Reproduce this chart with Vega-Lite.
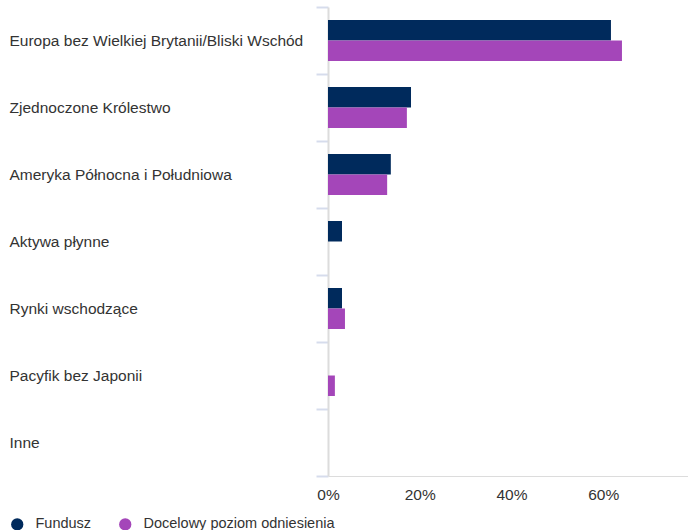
{
  "$schema": "https://vega.github.io/schema/vega-lite/v6.json",
  "width": 360,
  "height": 469,
  "padding": {"left": 9, "top": 0, "right": 0, "bottom": 0},
  "background": "white",
  "config": {"view": {"stroke": null}, "font": "Liberation Sans"},
  "data": {"values": [
    {"region": "Europa bez Wielkiej Brytanii/Bliski Wschód", "series": "Fundusz", "value": 0.617},
    {"region": "Europa bez Wielkiej Brytanii/Bliski Wschód", "series": "Docelowy poziom odniesienia", "value": 0.641},
    {"region": "Zjednoczone Królestwo", "series": "Fundusz", "value": 0.181},
    {"region": "Zjednoczone Królestwo", "series": "Docelowy poziom odniesienia", "value": 0.172},
    {"region": "Ameryka Północna i Południowa", "series": "Fundusz", "value": 0.137},
    {"region": "Ameryka Północna i Południowa", "series": "Docelowy poziom odniesienia", "value": 0.129},
    {"region": "Aktywa płynne", "series": "Fundusz", "value": 0.0305},
    {"region": "Aktywa płynne", "series": "Docelowy poziom odniesienia", "value": 0},
    {"region": "Rynki wschodzące", "series": "Fundusz", "value": 0.0305},
    {"region": "Rynki wschodzące", "series": "Docelowy poziom odniesienia", "value": 0.037},
    {"region": "Pacyfik bez Japonii", "series": "Fundusz", "value": 0},
    {"region": "Pacyfik bez Japonii", "series": "Docelowy poziom odniesienia", "value": 0.015},
    {"region": "Inne", "series": "Fundusz", "value": 0},
    {"region": "Inne", "series": "Docelowy poziom odniesienia", "value": 0}
  ]},
  "mark": {"type": "bar"},
  "encoding": {
    "y": {
      "field": "region", "type": "nominal", "sort": null,
      "scale": {"paddingInner": 0, "paddingOuter": 0},
      "axis": {
        "title": null, "labelAlign": "left", "labelPadding": 307, "tickSize": 12,
        "tickBand": "extent", "tickColor": "#d6dcec", "tickWidth": 2,
        "domainColor": "#dcdcdc", "domainWidth": 2,
        "labelFontSize": 15.5, "labelColor": "#333333", "labelLimit": 320
      }
    },
    "yOffset": {
      "field": "series", "type": "nominal",
      "sort": ["Fundusz", "Docelowy poziom odniesienia"],
      "scale": {"paddingInner": 0, "paddingOuter": 0.634}
    },
    "x": {
      "field": "value", "type": "quantitative",
      "scale": {"domain": [0, 0.785], "nice": false},
      "axis": {
        "title": null, "format": ".0%", "values": [0, 0.2, 0.4, 0.6],
        "grid": false, "ticks": false, "labelPadding": 11, "labelFlush": false,
        "domainColor": "#dcdcdc", "domainWidth": 1,
        "labelFontSize": 15.5, "labelColor": "#333333"
      }
    },
    "color": {
      "field": "series", "type": "nominal",
      "scale": {"domain": ["Fundusz", "Docelowy poziom odniesienia"], "range": ["#002a5c", "#a446b9"]},
      "legend": {
        "title": null, "orient": "none", "legendX": -318, "legendY": 510,
        "direction": "horizontal", "symbolType": "circle", "symbolSize": 150,
        "symbolStrokeWidth": 0, "labelFontSize": 14.5, "labelColor": "#333333",
        "columnPadding": 26, "labelOffset": 11, "labelLimit": 400
      }
    }
  }
}
